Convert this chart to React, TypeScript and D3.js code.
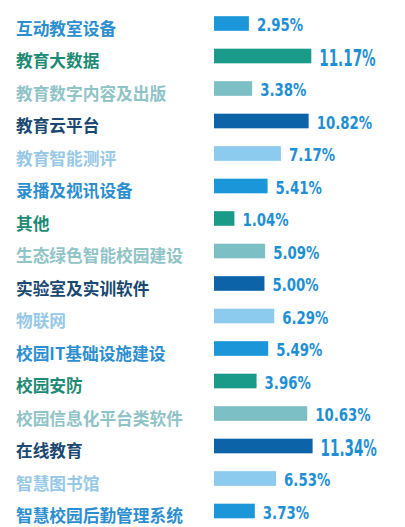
import React from "react";
import * as d3 from "d3";

const categories = [
  "互动教室设备",
  "教育大数据",
  "教育数字内容及出版",
  "教育云平台",
  "教育智能测评",
  "录播及视讯设备",
  "其他",
  "生态绿色智能校园建设",
  "实验室及实训软件",
  "物联网",
  "校园IT基础设施建设",
  "校园安防",
  "校园信息化平台类软件",
  "在线教育",
  "智慧图书馆",
  "智慧校园后勤管理系统",
];
const values = [2.95, 11.17, 3.38, 10.82, 7.17, 5.41, 1.04, 5.09, 5.0, 6.29, 5.49, 3.96, 10.63, 11.34, 6.53, 3.73];
const valueLabels = ["2.95%", "11.17%", "3.38%", "10.82%", "7.17%", "5.41%", "1.04%", "5.09%", "5.00%", "6.29%", "5.49%", "3.96%", "10.63%", "11.34%", "6.53%", "3.73%"];

const barColors = ["#1b97d9", "#1a9b8a", "#7cc0c5", "#0d63a8", "#8ccaee"];
const labelColors = ["#2c8ecf", "#1e8a75", "#8fc3c6", "#1a4870", "#97c8e6"];
const valueColor = "#1f8fd3";

const W = 405;
const H = 527;
const barX = 214;

export default function App() {
  const y = d3
    .scaleBand<string>()
    .domain(categories)
    .range([7.25, 527.25])
    .paddingInner(0.55)
    .paddingOuter(0.275);
  const x = d3.scaleLinear().domain([0, 12]).range([barX + 12.5, barX + 103.6]);
  const bw = y.bandwidth();

  return (
    <div style={{ position: "fixed", left: 0, top: 0, width: W, height: H, background: "#fff" }}>
      <svg width={W} height={H} viewBox={`0 0 ${W} ${H}`}>
        <rect x={0} y={0} width={W} height={H} fill="#fff" />
        {categories.map((c, i) => {
          const y0 = y(c) as number;
          const cy = y0 + bw / 2;
          const big = values[i] >= 11;
          const fs = big ? 23.5 : 18.5;
          const sx = big ? 0.64 : 0.8;
          const xEnd = x(values[i]);
          const tx = xEnd + 8;
          const ty = cy + fs * 0.365 + 1;
          return (
            <g key={c}>
              <text
                x={16}
                y={cy + 4}
                dominantBaseline="central"
                fontFamily="'Noto Sans CJK SC', sans-serif"
                fontWeight={700}
                fontSize={16.7}
                fill={labelColors[i % 5]}
              >
                {c}
              </text>
              <rect x={barX} y={y0} width={xEnd - barX} height={bw} fill={barColors[i % 5]} />
              <text
                transform={`translate(${tx},${ty}) scale(${sx},1)`}
                fontFamily="'DejaVu Sans Condensed', 'DejaVu Sans', sans-serif"
                fontStretch="condensed"
                fontWeight={700}
                fontSize={fs}
                fill={valueColor}
              >
                {valueLabels[i]}
              </text>
            </g>
          );
        })}
      </svg>
    </div>
  );
}
